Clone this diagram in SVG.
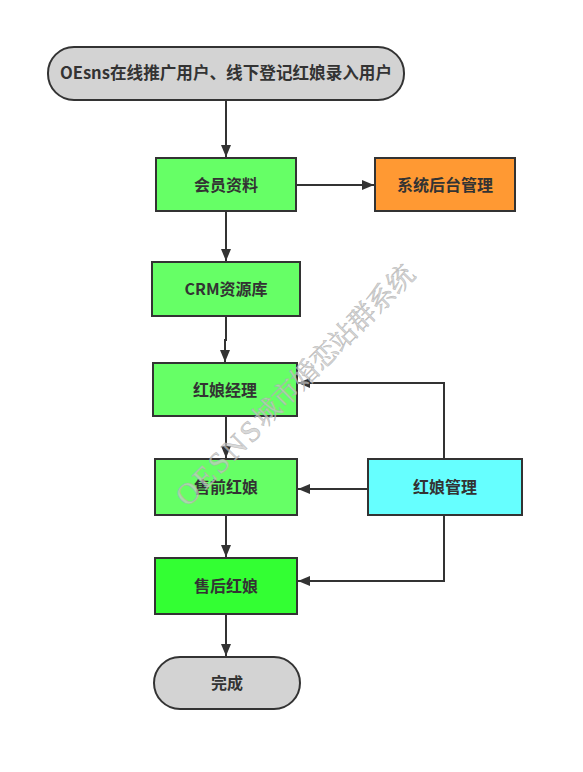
<svg xmlns="http://www.w3.org/2000/svg" width="583" height="772" viewBox="0 0 583 772">
<defs>
<marker id="arr" markerWidth="12" markerHeight="10" refX="12" refY="5" orient="auto" markerUnits="userSpaceOnUse">
<path d="M0,0 L12,5 L0,10 Z" fill="#333"/>
</marker>
<style>
.n{stroke:#333;stroke-width:2}
.t{font-family:"Noto Sans CJK SC","Noto Sans",sans-serif;font-size:16px;font-weight:bold;fill:#333;text-anchor:middle;dominant-baseline:central}
.c{fill:none;stroke:#333;stroke-width:2;marker-end:url(#arr)}
</style>
</defs>
<rect width="583" height="772" fill="#fff"/>
<g id="connectors">
<path class="c" d="M226,100 V157"/>
<path class="c" d="M296,185 H374"/>
<path class="c" d="M226,211 V261"/>
<path class="c" d="M226,316 V340 H225 V362"/>
<path class="c" d="M226,416 V458"/>
<path class="c" d="M226,515 V557"/>
<path class="c" d="M226,614 V656"/>
<path class="c" d="M444,459 V383 H298"/>
<path class="c" d="M368,489 H298"/>
<path class="c" d="M444,515 V581 H298"/>
</g>
<g id="start"><rect class="n" x="48" y="47" width="356" height="53" rx="26" fill="#d3d3d3"/><text class="t" x="226" y="72" style="font-size:16.6px">OEsns在线推广用户、线下登记红娘录入用户</text></g>
<g id="member"><rect class="n" x="156" y="158" width="140" height="53" fill="#66ff66"/><text class="t" x="226" y="183.5">会员资料</text></g>
<g id="backend"><rect class="n" x="375" y="158" width="140" height="53" fill="#ff9933"/><text class="t" x="445" y="183.5">系统后台管理</text></g>
<g id="crm"><rect class="n" x="152" y="262" width="148" height="54" fill="#66ff66"/><text class="t" x="226" y="288">CRM资源库</text></g>
<g id="manager"><rect class="n" x="153" y="363" width="144" height="53" fill="#66ff66"/><text class="t" x="225" y="388.5">红娘经理</text></g>
<g id="presale"><rect class="n" x="155" y="459" width="142" height="56" fill="#66ff66"/><text class="t" x="226" y="486">售前红娘</text></g>
<g id="mgmt"><rect class="n" x="368" y="459" width="154" height="56" fill="#66ffff"/><text class="t" x="445" y="486">红娘管理</text></g>
<g id="aftersale"><rect class="n" x="155" y="558" width="142" height="56" fill="#33ff33"/><text class="t" x="226" y="585">售后红娘</text></g>
<g id="done"><rect class="n" x="154" y="657" width="146" height="52" rx="26" fill="#d3d3d3"/><text class="t" x="227" y="682">完成</text></g>
<text x="295" y="385" transform="rotate(-45 295 385)" font-family="'Liberation Serif','Noto Serif CJK SC','Noto Sans CJK SC',serif" font-size="27" text-anchor="middle" dominant-baseline="central" fill="#c8c8c8" fill-opacity="0.7" stroke="#aaa" stroke-width="0.6" stroke-opacity="0.7"><tspan font-size="30" letter-spacing="3">OESNS</tspan>城市婚恋站群系统</text>
</svg>
